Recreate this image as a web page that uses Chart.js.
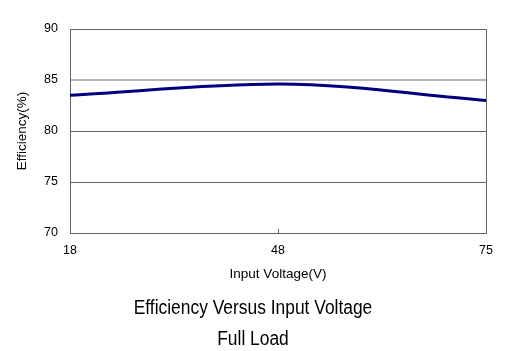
<!DOCTYPE html>
<html>
<head>
<meta charset="utf-8">
<script src="https://cdn.jsdelivr.net/npm/chart.js@4"></script>
<style>
  html, body { margin: 0; padding: 0; background: #fff; }
  #wrap { position: relative; width: 516px; height: 351px; }
  .caption {
    position: absolute; left: 0; width: 506px; text-align: center;
    font-family: 'Liberation Sans', Arial, sans-serif; font-size: 20px; color: #000;
    line-height: 20px; transform: scaleX(0.87); transform-origin: 253px 50%;
  }
</style>
</head>
<body>
<div id="wrap">
  <canvas id="effChart" width="516" height="351"></canvas>
  <div class="caption" style="top: 297px;">Efficiency Versus Input Voltage</div>
  <div class="caption" style="top: 328px;">Full Load</div>
</div>
<script>
// Input voltage points (V) and measured efficiency at full load (%)
const voltages = ['18', '48', '75'];
const efficiency = [83.5, 84.6, 83.0];
const yTicks = [70, 75, 80, 85, 90];

const axisFont = { family: 'Liberation Sans, Arial, sans-serif', size: 12.5 };
const titleFont = { family: 'Liberation Sans, Arial, sans-serif', size: 13.5 };

const ctx = document.getElementById('effChart').getContext('2d');

new Chart(ctx, {
    type: 'line',
    data: {
        labels: voltages,
        datasets: [{
            label: 'Efficiency',
            data: efficiency,
            borderColor: '#000080',
            borderWidth: 3,
            pointRadius: 0,
            fill: false,
            cubicInterpolationMode: 'monotone',
        }],
    },
    options: {
        responsive: false,
        animation: false,
        // bottom space is left for the two caption lines under the chart
        layout: { padding: { left: 0, right: 30, top: 29, bottom: 62 } },
        plugins: {
            legend: { display: false },
            tooltip: { enabled: false },
        },
        scales: {
            x: {
                type: 'category',
                offset: false,
                border: { color: '#666', width: 1 },
                grid: {
                    // only the right edge is drawn as a full line, 48 gets a short inner tick
                    color: (c) => (c.index === 2 ? '#666' : 'rgba(0,0,0,0)'),
                    tickColor: (c) => (c.index === 1 ? '#666' : 'rgba(0,0,0,0)'),
                    tickLength: -4,
                },
                ticks: { color: '#000', font: axisFont, padding: 14, maxRotation: 0 },
                title: { display: true, text: 'Input Voltage(V)', color: '#000', font: titleFont, padding: { top: 0, bottom: 7 } },
                afterFit: (scale) => { scale.height = 56; },
            },
            y: {
                min: 70,
                max: 90,
                afterBuildTicks: (scale) => { scale.ticks = yTicks.map((v) => ({ value: v })); },
                border: { color: '#666', width: 1 },
                grid: {
                    color: (c) => (c.tick && c.tick.value === 85 ? '#b4b4b4' : '#666'),
                    lineWidth: (c) => (c.tick && c.tick.value === 85 ? 2 : 1),
                    drawTicks: false,
                },
                ticks: { color: '#000', font: axisFont, padding: 12 },
                title: { display: true, text: 'Efficiency(%)', color: '#000', font: titleFont, padding: { top: 14, bottom: 0 } },
                afterFit: (scale) => { scale.width = 70; },
            },
        },
    },
});
</script>
</body>
</html>
